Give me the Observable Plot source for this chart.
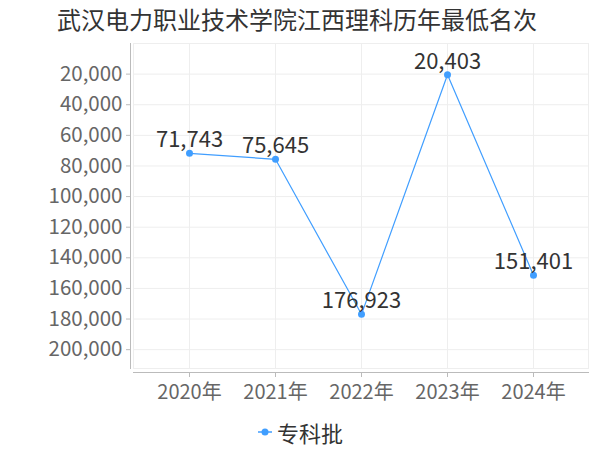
<!DOCTYPE html>
<html>
<head>
<meta charset="utf-8">
<script src="https://cdn.jsdelivr.net/npm/d3@7"></script>
<script src="https://cdn.jsdelivr.net/npm/@observablehq/plot@0.6"></script>
<style>
  body { margin: 0; background: #fff; font-family: "Noto Sans CJK SC", sans-serif; }
  #wrap { width: 600px; height: 450px; position: relative; }
  #title { height: 40px; line-height: 38px; padding-left: 57px; font-size: 24px; color: #333;
           font-family: "Noto Sans CJK SC", sans-serif; box-sizing: border-box; }
  #legend { height: 40px; display: flex; justify-content: center; align-items: center; gap: 4px;
            font-size: 22px; color: #333; font-family: "Noto Sans CJK SC", sans-serif; padding-top: 4px; box-sizing: border-box; }
  svg { display: block; }
</style>
</head>
<body>
<div id="wrap">
  <div id="title"></div>
  <div id="chart"></div>
  <div id="legend"></div>
</div>
<script>
const titleText = "武汉电力职业技术学院江西理科历年最低名次";
const seriesName = "专科批";
const years = ["2020年", "2021年", "2022年", "2023年", "2024年"];
const ranks = [71743, 75645, 176923, 20403, 151401];
const yTicks = [20000, 40000, 60000, 80000, 100000, 120000, 140000, 160000, 180000, 200000];

const color = "#409EFF";
const fmt = d3.format(",");
const data = years.map((y, i) => ({year: y, rank: ranks[i]}));

document.getElementById("title").textContent = titleText;

const chart = Plot.plot({
  width: 600,
  height: 370,
  marginTop: 3,
  marginBottom: 42,
  marginLeft: 133,
  marginRight: 12,
  style: {fontFamily: "'Noto Sans CJK SC', sans-serif", background: "#fff"},
  x: {type: "point", domain: years, padding: 0.63},
  y: {domain: [0, 176923 * 1.2], reverse: true},
  marks: [
    Plot.gridY(yTicks, {stroke: "#eee", strokeOpacity: 1}),
    Plot.gridX(years, {stroke: "#eee", strokeOpacity: 1}),
    Plot.frame({stroke: "#eee"}),
    Plot.frame({anchor: "left", dx: -3, stroke: "#bbb"}),
    Plot.frame({anchor: "bottom", dy: 4, stroke: "#bbb"}),
    Plot.axisY(yTicks, {tickSize: 4, tickPadding: 4, dx: -3, tickFormat: fmt, fontSize: 20.5, fill: "#666", stroke: "#bbb", label: null}),
    Plot.axisX(years, {tickSize: 5, dy: 4, tickPadding: 7, fontSize: 20, fill: "#666", stroke: "#bbb", label: null}),
    Plot.line(data, {x: "year", y: "rank", stroke: color, strokeWidth: 1.2}),
    Plot.dot(data, {x: "year", y: "rank", r: 3.5, fill: color}),
    Plot.text(data, {x: "year", y: "rank", text: d => fmt(d.rank), dy: -13, fontSize: 22, fill: "#333"})
  ]
});
document.getElementById("chart").appendChild(chart);

const legend = document.getElementById("legend");
const ns = "http://www.w3.org/2000/svg";
const sw = document.createElementNS(ns, "svg");
sw.setAttribute("width", 16); sw.setAttribute("height", 12);
const ln = document.createElementNS(ns, "line");
ln.setAttribute("x1", 1); ln.setAttribute("x2", 15); ln.setAttribute("y1", 6); ln.setAttribute("y2", 6);
ln.setAttribute("stroke", color); ln.setAttribute("stroke-width", 1.5);
const c = document.createElementNS(ns, "circle");
c.setAttribute("cx", 8); c.setAttribute("cy", 6); c.setAttribute("r", 3.5); c.setAttribute("fill", color);
sw.appendChild(ln); sw.appendChild(c);
const lt = document.createElement("span");
lt.textContent = seriesName;
legend.appendChild(sw); legend.appendChild(lt);
</script>
</body>
</html>
